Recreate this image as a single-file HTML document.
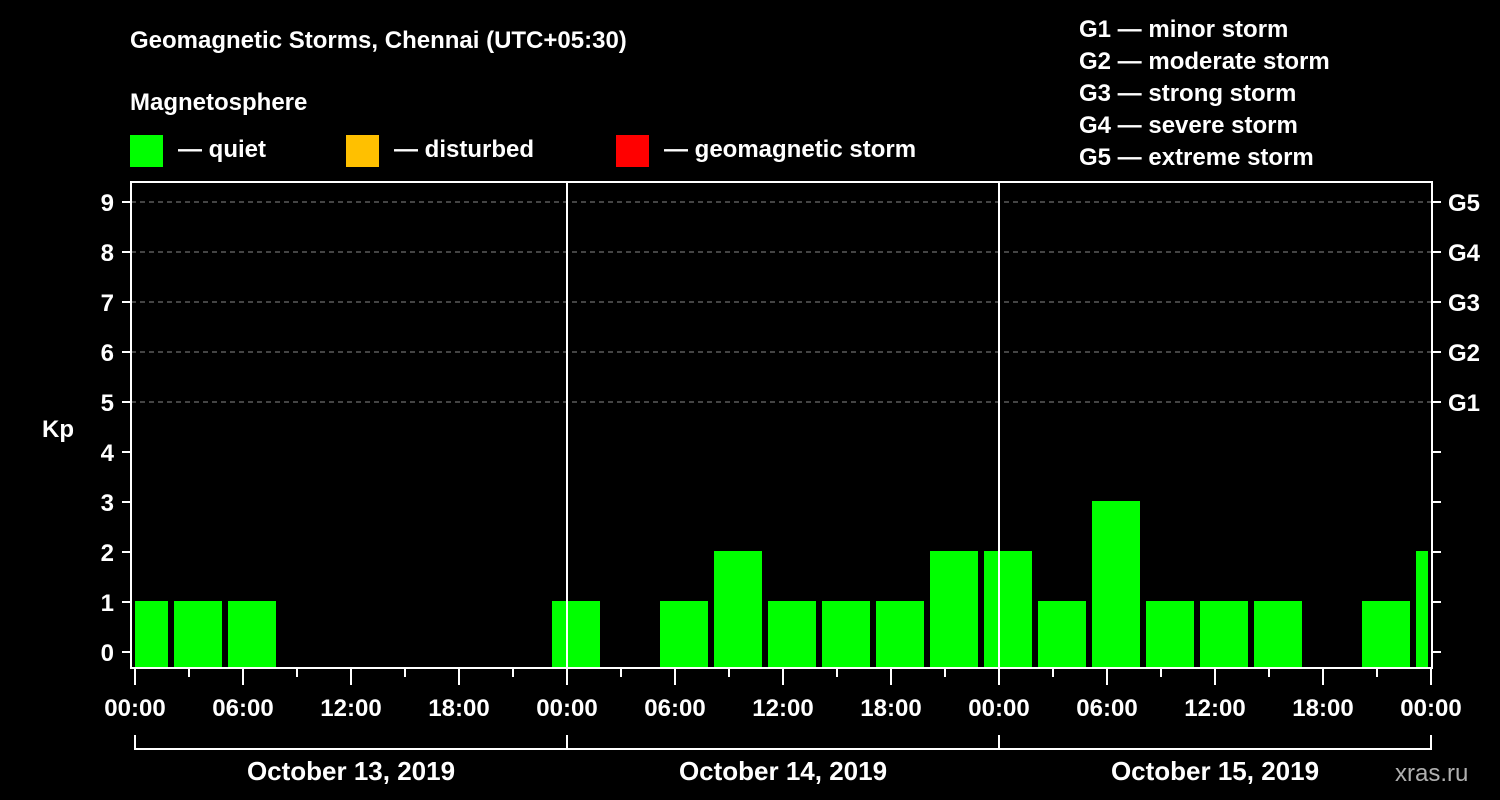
<!DOCTYPE html>
<html><head><meta charset="utf-8"><style>
html,body{margin:0;padding:0;background:#000;width:1500px;height:800px;overflow:hidden}
svg text{font-family:"Liberation Sans",sans-serif;font-weight:bold;fill:#fff}
</style></head><body>
<svg id="chart" width="1500" height="800" xmlns="http://www.w3.org/2000/svg">
<text x="130" y="48" font-size="24">Geomagnetic Storms, Chennai (UTC+05:30)</text>
<text x="130" y="110" font-size="24">Magnetosphere</text>
<g><rect x="130" y="135" width="33" height="32" fill="#00ff00"/><text x="178" y="157" font-size="24">— quiet</text></g>
<g><rect x="346" y="135" width="33" height="32" fill="#ffc000"/><text x="394" y="157" font-size="24">— disturbed</text></g>
<g><rect x="616" y="135" width="33" height="32" fill="#ff0000"/><text x="664" y="157" font-size="24">— geomagnetic storm</text></g>
<g font-size="24">
<text x="1079" y="37">G1 — minor storm</text>
<text x="1079" y="69">G2 — moderate storm</text>
<text x="1079" y="101">G3 — strong storm</text>
<text x="1079" y="133">G4 — severe storm</text>
<text x="1079" y="165">G5 — extreme storm</text>
</g>
<text x="42" y="437" font-size="24">Kp</text>
<text x="1395" y="781" font-size="24" fill="#bbb" style="fill:#b0b0b0;font-weight:normal">xras.ru</text>
<g id="grid"></g><g id="bars"></g><g id="axes"></g>
</svg>
<script>
const kpValues=[1,1,1,null,null,null,null,null,1,null,1,2,1,1,1,2,2,1,3,1,1,1,null,1,2];
const yTicks=[0,1,2,3,4,5,6,7,8,9];
const gLabels=["G1","G2","G3","G4","G5"];
const xTickLabels=["00:00","06:00","12:00","18:00","00:00","06:00","12:00","18:00","00:00","06:00","12:00","18:00","00:00"];
const dayLabels=["October 13, 2019","October 14, 2019","October 15, 2019"];
const NS="http://www.w3.org/2000/svg";
const X0=135,PXH=18,PL=131,PR=1432,PT=182,PB=668;
const xs=h=>X0+h*PXH;
const ys=v=>652-v*50;
function mk(tag,attrs,parent,txt){const e=document.createElementNS(NS,tag);for(const k in attrs)e.setAttribute(k,attrs[k]);if(txt!==undefined)e.textContent=txt;document.getElementById(parent).appendChild(e);return e;}
// grid
yTicks.forEach(v=>{if(v>=5){const l=mk('line',{x1:PL,x2:PR,y1:ys(v),y2:ys(v),stroke:'#888','stroke-dasharray':'5,4','stroke-width':1},'grid');

}});
// bars
kpValues.forEach((v,i)=>{if(v===null)return;let a=xs(-1+3*i)+3,b=xs(2+3*i)-3;a=Math.max(a,X0);b=Math.min(b,PR-4);
const r=mk('rect',{x:a,y:ys(v)-1,width:b-a,height:PB-ys(v)+1,fill:'#00ff00'},'bars');

});
// axes frame
const f=mk('rect',{x:PL,y:PT,width:PR-PL,height:PB-PT,fill:'none',stroke:'#fff','stroke-width':2},'axes');


[24,48].forEach(h=>{const l=mk('line',{x1:xs(h),x2:xs(h),y1:PT,y2:PB,stroke:'#fff','stroke-width':2},'axes');

});
yTicks.forEach(v=>{mk('line',{x1:PL-9,x2:PL,y1:ys(v),y2:ys(v),stroke:'#fff','stroke-width':2},'axes');
const t=mk('text',{x:114,y:ys(v)+9,'font-size':24,'text-anchor':'end'},'axes',String(v));


mk('line',{x1:PR,x2:PR+9,y1:ys(v),y2:ys(v),stroke:'#fff','stroke-width':2},'axes');});
gLabels.forEach((g,i)=>{const t=mk('text',{x:1448,y:ys(5+i)+9,'font-size':24},'axes',g);

});
for(let h=0;h<=72;h+=3){const major=h%6===0;mk('line',{x1:xs(h),x2:xs(h),y1:PB,y2:PB+(major?17:9),stroke:'#fff','stroke-width':2},'axes');}
xTickLabels.forEach((s,i)=>{const t=mk('text',{x:xs(i*6),y:716,'font-size':24,'text-anchor':'middle'},'axes',s);

});
mk('line',{x1:xs(0),x2:xs(72),y1:749,y2:749,stroke:'#fff','stroke-width':2},'axes');
for(let d=0;d<=3;d++)mk('line',{x1:xs(24*d),x2:xs(24*d),y1:735,y2:750,stroke:'#fff','stroke-width':2},'axes');
dayLabels.forEach((s,i)=>{const t=mk('text',{x:xs(24*i+12),y:780,'font-size':26,'text-anchor':'middle'},'axes',s);

});
</script>
</body></html>
